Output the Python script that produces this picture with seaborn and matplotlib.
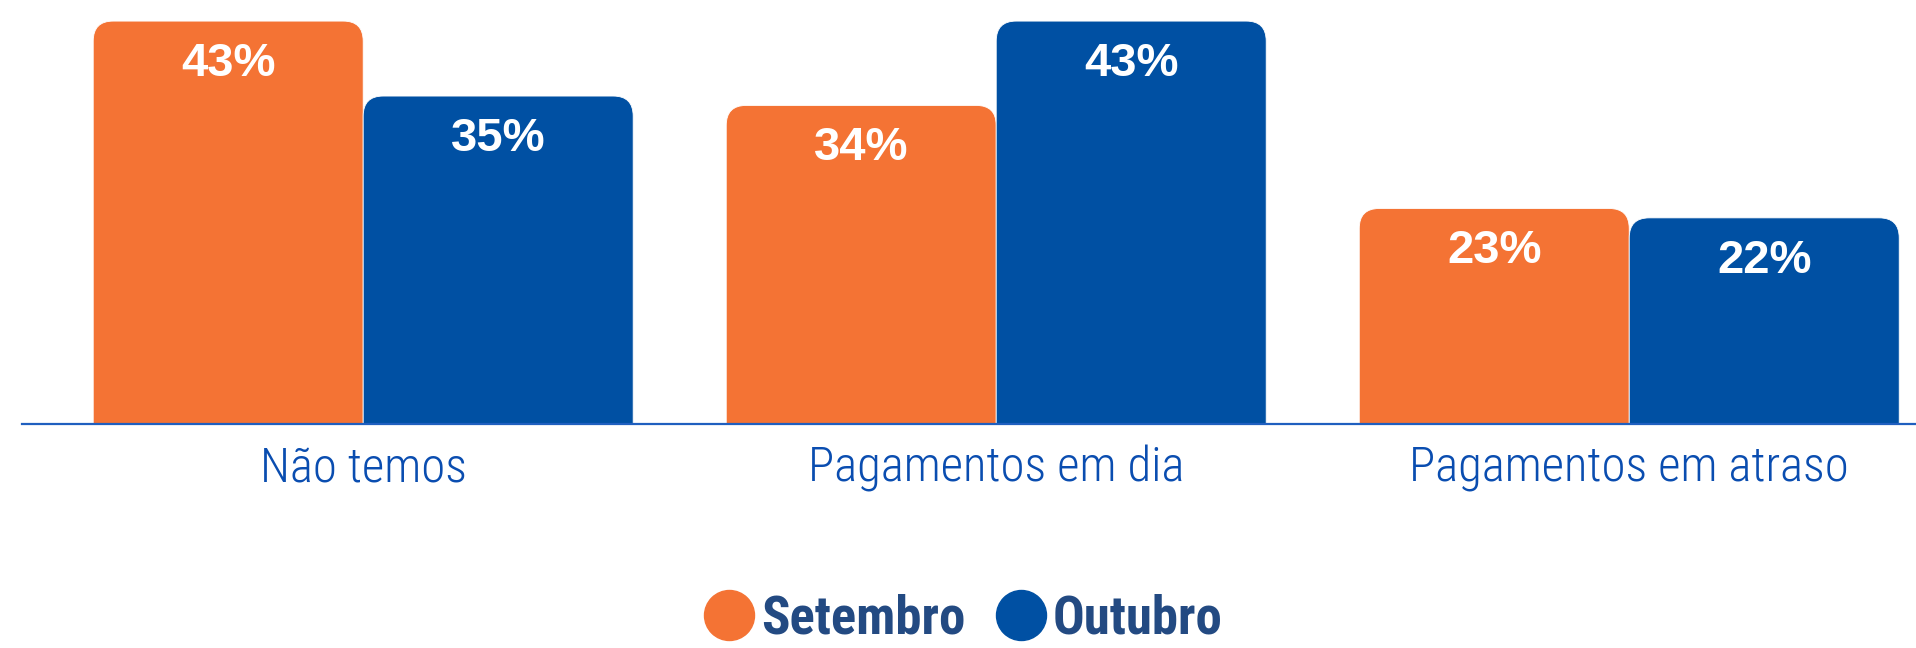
import matplotlib
matplotlib.use("Agg")
import matplotlib.pyplot as plt
from matplotlib import font_manager as fm
from matplotlib.patches import FancyBboxPatch
from matplotlib.lines import Line2D
import pandas as pd
import seaborn as sns

categorias = ["Não temos", "Pagamentos em dia", "Pagamentos em atraso"]
setembro = [43, 34, 23]
outubro = [35, 43, 22]
meses = ["Setembro", "Outubro"]
cores = ["#F47334", "#0050A3"]

df = pd.DataFrame({
    "categoria": categorias * 2,
    "valor": setembro + outubro,
    "mes": [meses[0]] * 3 + [meses[1]] * 3,
})

sns.set_style("white")
installed = {f.name for f in fm.fontManager.ttflist}
narrow = [f for f in ["Roboto Condensed", "Liberation Sans Narrow", "Open Sans Condensed"] if f in installed]
if narrow:
    tick_font, tick_size, tick_weight = narrow[0], 35, "light"
else:
    tick_font, tick_size, tick_weight = "Roboto", 31, "light"
plt.rcParams["font.family"] = [tick_font, "DejaVu Sans"]

W, H, DPI = 1916, 648, 100
fig = plt.figure(figsize=(W / DPI, H / DPI), dpi=DPI)
ax = fig.add_axes([22 / W, (H - 424) / H, 1 - 22 / W, 424 / H])

sns.barplot(data=df, x="categoria", y="valor", hue="mes", palette=cores,
            width=0.853, legend=False, ax=ax, linewidth=0)

xlim = (-0.539, 2.453)
ylim = (0, 45.25)
ax.set_xlim(*xlim)
ax.set_ylim(*ylim)

# cantos de cima arredondados
px_x = (W - 22) / (xlim[1] - xlim[0])
px_y = 424 / (ylim[1] - ylim[0])
r_px = 20
for cont, cor in zip(ax.containers, cores):
    for bar in cont:
        x0, w, h = bar.get_x(), bar.get_width(), bar.get_height()
        bar.set_visible(False)
        ext = 3
        fb = FancyBboxPatch((x0, -ext), w, h + ext,
                            boxstyle=f"round,pad=0,rounding_size={r_px / px_x}",
                            mutation_aspect=px_x / px_y,
                            facecolor=cor, edgecolor="white", linewidth=0.6)
        ax.add_patch(fb)
        ax.annotate(f"{h:.0f}%", (x0 + w / 2, h), xytext=(0, -39.5),
                    textcoords="offset points", ha="center", va="baseline",
                    color="white", fontsize=34, fontweight="bold",
                    family=["Liberation Sans", "DejaVu Sans"])

for s in ["top", "right", "left"]:
    ax.spines[s].set_visible(False)
ax.spines["bottom"].set_color("#1F5FBF")
ax.spines["bottom"].set_linewidth(1.6)
ax.spines["bottom"].set_zorder(5)
ax.set_yticks([])
ax.set_xlabel("")
ax.set_ylabel("")
ax.tick_params(axis="x", length=0, pad=15, labelsize=tick_size, labelcolor="#0A4DB0")
for t in ax.get_xticklabels():
    t.set_fontweight(tick_weight)

handles = [Line2D([], [], marker="o", linestyle="", markersize=36,
                  markerfacecolor=c, markeredgecolor=c) for c in cores]
leg_font = narrow[0] if narrow else "Liberation Sans"
fig.legend(handles, meses, loc="center", bbox_to_anchor=(0.503, 0.045),
           ncol=2, frameon=False, handlelength=0.9, handletextpad=0.15,
           columnspacing=0.6, borderaxespad=0,
           prop={"family": [leg_font, "DejaVu Sans"],
                 "weight": "heavy", "size": 38 if narrow else 35},
           labelcolor="#234A82")

fig.savefig("out.png", dpi=DPI)
